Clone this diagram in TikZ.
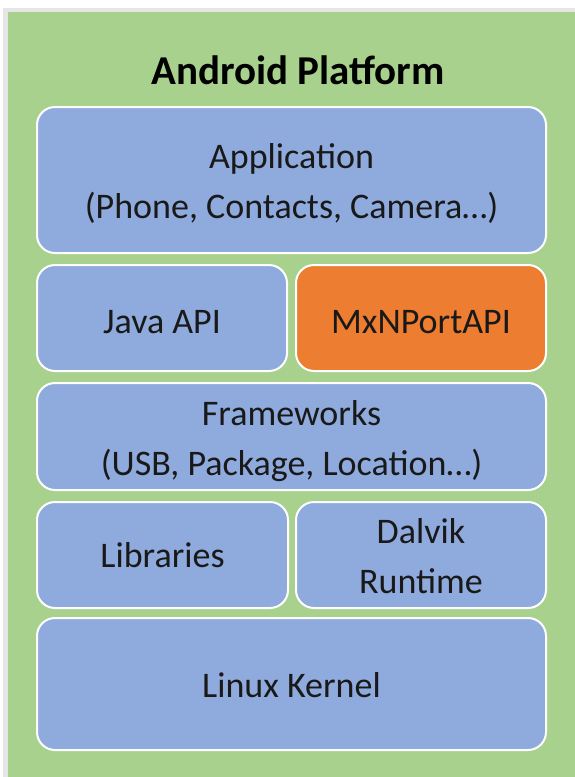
\documentclass[tikz,border=0pt]{standalone}
\usepackage{fontspec}
\setmainfont{Carlito}
\definecolor{bggreen}{HTML}{A9D18E}
\definecolor{boxblue}{HTML}{8FAADC}
\definecolor{boxorange}{HTML}{ED7D31}
\definecolor{edgegray}{HTML}{E6E6E6}
\newcommand\dn[2][3pt]{\raisebox{-#1}[\height][\depth]{#2}}
\tikzset{
  layer/.style={draw=white, line width=2pt, rounded corners=18pt, fill=boxblue,
    inner sep=0pt, align=center, font=\fontsize{36}{50}\selectfont, text=black!90},
  hilite/.style={layer, fill=boxorange},
}
\begin{document}
\begin{tikzpicture}[x=1pt,y=-1pt]
\useasboundingbox (0,0) rectangle (575,777);
\fill[white] (0,0) rectangle (575,777);
\fill[edgegray] (3,8) rectangle (575,777);
\fill[bggreen] (8,12) rectangle (575,777);
\node[font=\fontsize{41}{48}\selectfont\bfseries] (title) at (298,70) {Android Platform};
\node[layer, minimum width=509pt, minimum height=146pt] (app) at (291.5,180) {\dn{Application}\\\dn{(Phone, Contacts, Camera…)}};
\node[layer, minimum width=250pt, minimum height=106pt] (java) at (162,318) {\dn[4pt]{Java API}};
\node[hilite, minimum width=250pt, minimum height=106pt] (mxn) at (421,318) {\dn[4pt]{MxNPortAPI}};
\node[layer, minimum width=509pt, minimum height=107pt] (fw) at (291.5,436.5) {\dn[5pt]{Frameworks}\\\dn[5pt]{(USB, Package, Location…)}};
\node[layer, minimum width=251pt, minimum height=106pt] (lib) at (162.5,555) {Libraries};
\node[layer, minimum width=250pt, minimum height=106pt] (dalvik) at (421,555) {\dn[1.5pt]{Dalvik}\\\dn[1.5pt]{Runtime}};
\node[layer, minimum width=509pt, minimum height=132pt] (kernel) at (291.5,684) {\dn[1pt]{Linux Kernel}};
\end{tikzpicture}
\end{document}
